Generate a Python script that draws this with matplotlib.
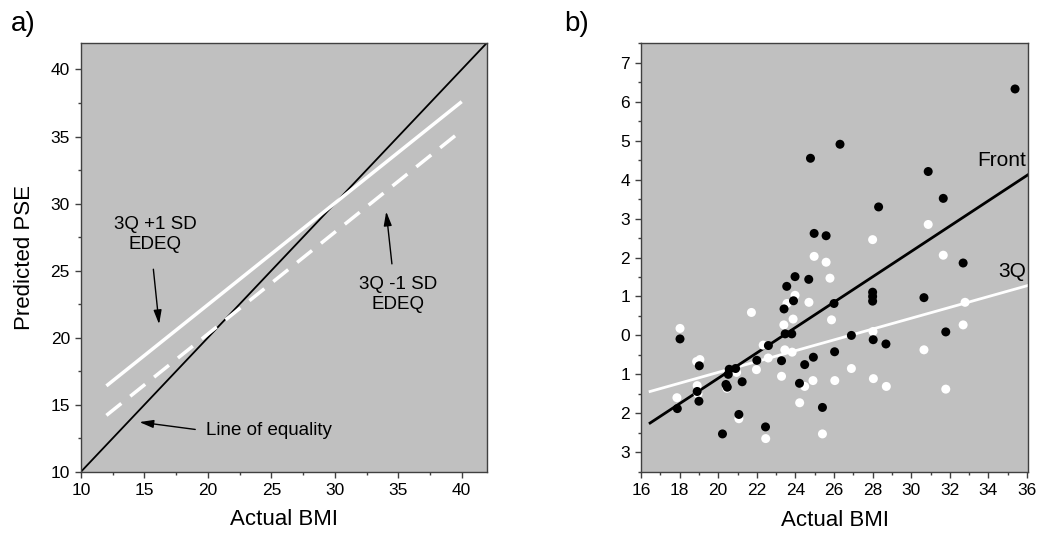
import numpy as np
import matplotlib
matplotlib.use("Agg")
import matplotlib.pyplot as plt
from matplotlib.ticker import MultipleLocator, FuncFormatter

plt.rcParams['font.family'] = ['Liberation Sans', 'DejaVu Sans']

# panel a) - model lines
equal_x = [10, 42]
equal_y = [10, 42]
fit_x = [12, 40]
plus_sd = [16.4, 37.6]
minus_sd = [14.2, 35.45]

# panel b) - scatter (Actual BMI vs score)
front_x = [35.38, 26.31, 24.78, 30.88, 31.66, 28.31, 24.97, 25.59, 32.69, 23.98,
           24.69, 23.55, 30.66, 28.0, 28.0, 28.0, 26.0, 23.90, 23.41, 31.79,
           18.02, 23.47, 23.81, 26.90, 28.03, 28.69, 22.60, 26.03, 22.0, 23.28,
           24.93, 24.48, 19.02, 20.57, 20.90, 20.52, 18.91, 20.40, 20.47, 21.24,
           24.21, 19.0, 17.88, 25.40, 21.07, 22.45, 20.22]
front_y = [6.33, 4.91, 4.55, 4.21, 3.52, 3.30, 2.62, 2.56, 1.86, 1.51,
           1.44, 1.26, 0.97, 1.11, 1.0, 0.88, 0.82, 0.89, 0.68, 0.09,
           -0.09, 0.04, 0.04, 0.0, -0.11, -0.22, -0.26, -0.42, -0.64, -0.65,
           -0.56, -0.75, -0.78, -0.87, -0.85, -1.0, -1.44, -1.26, -1.33, -1.19,
           -1.23, -1.69, -1.88, -1.85, -2.03, -2.35, -2.53]

q3_x = [30.88, 28.0, 31.66, 24.97, 25.59, 25.79, 23.98, 23.56, 24.70, 21.72,
        25.87, 23.88, 23.40, 18.02, 28.02, 32.69, 32.79, 30.66, 23.45, 23.83,
        22.33, 22.59, 26.90, 21.98, 20.95, 23.28, 18.88, 19.05, 18.91, 17.86,
        28.04, 28.71, 26.04, 24.91, 24.48, 24.22, 31.79, 21.07, 20.45, 22.46,
        25.40, 18.95]
q3_y = [2.85, 2.46, 2.06, 2.03, 1.88, 1.47, 1.03, 0.82, 0.85, 0.59,
        0.40, 0.42, 0.27, 0.18, 0.10, 0.27, 0.85, -0.37, -0.37, -0.43,
        -0.25, -0.58, -0.85, -0.88, -0.95, -1.05, -0.67, -0.62, -1.29, -1.60,
        -1.11, -1.31, -1.16, -1.16, -1.31, -1.73, -1.38, -2.14, -1.36, -2.65,
        -2.53, -1.50]

# regression lines (end points)
reg_x = [16.47, 36.03]
front_fit = [-2.25, 4.12]
q3_fit = [-1.44, 1.28]

bg = '#c0c0c0'
spine_col = '#404040'

fig = plt.figure(figsize=(10.43, 5.36), dpi=100)
ax1 = fig.add_axes([0.0777, 0.12, 0.3893, 0.8004])
ax2 = fig.add_axes([0.6146, 0.12, 0.3710, 0.799])

for ax in (ax1, ax2):
    ax.set_facecolor(bg)
    for s in ax.spines.values():
        s.set_color(spine_col)
        s.set_linewidth(1.0)
    ax.tick_params(which='major', direction='out', length=4.5, width=1,
                   color=spine_col, labelsize=12.5, pad=3.5)
    ax.tick_params(which='minor', direction='out', length=2.5, width=1,
                   color=spine_col)

# ---- a) ----
ax1.plot(equal_x, equal_y, color='black', lw=1.3)
ax1.plot(fit_x, plus_sd, color='white', lw=2.5, solid_capstyle='butt')
ax1.plot(fit_x, minus_sd, color='white', lw=2.5, dashes=(5.5, 3.3))
ax1.set_xlim(10, 42)
ax1.set_ylim(10, 42)
ax1.xaxis.set_major_locator(MultipleLocator(5))
ax1.xaxis.set_minor_locator(MultipleLocator(2.5))
ax1.yaxis.set_major_locator(MultipleLocator(5))
ax1.yaxis.set_minor_locator(MultipleLocator(2.5))
ax1.set_xlabel('Actual BMI', fontsize=16, labelpad=8)
ax1.set_ylabel('Predicted PSE', fontsize=16, labelpad=11)

arr = dict(arrowstyle='-|>,head_length=0.7,head_width=0.2', color='black',
           lw=1.0, mutation_scale=12, shrinkA=0, shrinkB=0)
ax1.text(15.85, 27.7, '3Q +1 SD\nEDEQ', ha='center', va='center', fontsize=13.5,
         linespacing=1.2)
ax1.annotate('', xy=(16.15, 21.0), xytext=(15.7, 25.1), arrowprops=arr)
ax1.text(35.0, 23.2, '3Q -1 SD\nEDEQ', ha='center', va='center', fontsize=13.5,
         linespacing=1.2)
ax1.annotate('', xy=(34.05, 29.4), xytext=(34.5, 25.5), arrowprops=arr)
ax1.text(19.85, 13.05, 'Line of equality', ha='left', va='center', fontsize=13.5)
ax1.annotate('', xy=(14.6, 13.7), xytext=(19.0, 13.15), arrowprops=arr)

# ---- b) ----
ax2.plot(reg_x, q3_fit, color='white', lw=2.0)
ax2.plot(reg_x, front_fit, color='black', lw=2.0)
ax2.scatter(q3_x, q3_y, s=42, color='white', edgecolors='none', zorder=3)
ax2.scatter(front_x, front_y, s=42, color='black', edgecolors='none', zorder=4)
ax2.set_xlim(16, 36.05)
ax2.set_ylim(-3.5, 7.5)
ax2.xaxis.set_major_locator(MultipleLocator(2))
ax2.xaxis.set_minor_locator(MultipleLocator(1))
ax2.yaxis.set_major_locator(MultipleLocator(1))
ax2.yaxis.set_minor_locator(MultipleLocator(0.5))
ax2.yaxis.set_major_formatter(FuncFormatter(lambda v, p: '%d' % abs(round(v))))
ax2.set_xlabel('Actual BMI', fontsize=16, labelpad=9)
ax2.text(35.95, 4.5, 'Front', ha='right', va='center', fontsize=15)
ax2.text(35.95, 1.65, '3Q', ha='right', va='center', fontsize=15)

fig.text(0.022, 0.98, 'a)', fontsize=20, ha='center', va='top')
fig.text(0.553, 0.98, 'b)', fontsize=20, ha='center', va='top')

fig.savefig('out.png', dpi=100, facecolor='white')
